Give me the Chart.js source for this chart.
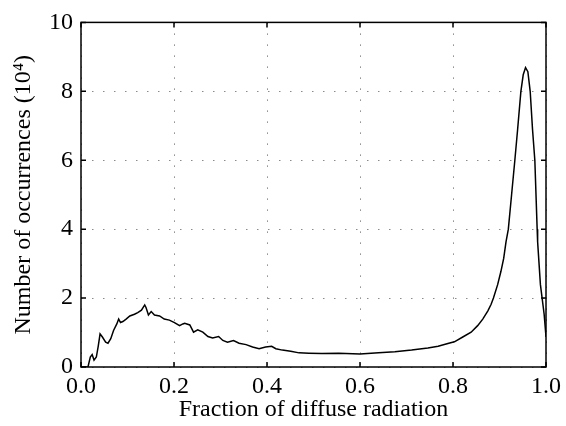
<!DOCTYPE html>
<html>
<head>
<meta charset="utf-8">
<script src="https://cdn.jsdelivr.net/npm/chart.js@4.4.1/dist/chart.umd.min.js"></script>
<style>
  html, body { margin: 0; padding: 0; background: #fff; }
  canvas { display: block; }
</style>
</head>
<body>
<canvas id="histChart" width="566" height="426"></canvas>
<script>
// fraction of diffuse radiation (x) and occurrences in 10^4 (y)
const fractions = [
  0, 0.015, 0.020, 0.024, 0.028, 0.033, 0.037, 0.041, 0.046, 0.053,
  0.058, 0.064, 0.070, 0.077, 0.081, 0.085, 0.090, 0.097, 0.105, 0.115,
  0.122, 0.130, 0.137, 0.140, 0.145, 0.151, 0.158, 0.169, 0.179, 0.190,
  0.201, 0.212, 0.219, 0.223, 0.234, 0.242, 0.251, 0.262, 0.273, 0.283,
  0.296, 0.305, 0.315, 0.328, 0.340, 0.355, 0.369, 0.383, 0.397, 0.410,
  0.419, 0.433, 0.451, 0.469, 0.490, 0.518, 0.554, 0.600, 0.640, 0.675,
  0.711, 0.746, 0.768, 0.789, 0.803, 0.821, 0.839, 0.853, 0.864, 0.875,
  0.882, 0.887, 0.896, 0.903, 0.909, 0.914, 0.919, 0.926, 0.933, 0.939,
  0.946, 0.951, 0.956, 0.961, 0.966, 0.971, 0.976, 0.981, 0.982, 0.988,
  0.996, 1.0
];
const occurrences = [
  0, 0, 0.29, 0.36, 0.20, 0.29, 0.60, 0.96, 0.87, 0.72,
  0.69, 0.82, 1.06, 1.25, 1.39, 1.29, 1.32, 1.39, 1.48, 1.53,
  1.58, 1.65, 1.80, 1.72, 1.51, 1.61, 1.51, 1.48, 1.39, 1.36,
  1.29, 1.20, 1.25, 1.27, 1.22, 1.01, 1.08, 1.01, 0.885, 0.84,
  0.885, 0.77, 0.72, 0.77, 0.69, 0.65, 0.58, 0.53, 0.58, 0.60,
  0.53, 0.49, 0.46, 0.41, 0.40, 0.39, 0.40, 0.38, 0.41, 0.44,
  0.49, 0.55, 0.60, 0.68, 0.73, 0.87, 1.01, 1.20, 1.39, 1.63,
  1.82, 2.0, 2.39, 2.77, 3.15, 3.63, 4.0, 5.0, 6.0, 6.9,
  8.0, 8.48, 8.69, 8.57, 8.0, 6.9, 6.0, 4.0, 3.63, 2.39,
  1.53, 0.87
];
const xTicks = [0, 0.2, 0.4, 0.6, 0.8, 1.0];
const yTicks = [0, 2, 4, 6, 8, 10];

const points = fractions.map((f, i) => ({ x: f, y: occurrences[i] }));
const serif = { family: "'Liberation Serif', 'Times New Roman', serif", size: 24 };

// matlab style box with inward ticks
const boxPlugin = {
  id: 'box',
  afterDraw(chart) {
    const { ctx, chartArea: a, scales: { x, y } } = chart;
    ctx.save();
    ctx.strokeStyle = '#000';
    ctx.lineWidth = 1.5;
    ctx.strokeRect(a.left, a.top, a.width, a.height);
    ctx.beginPath();
    xTicks.forEach(v => {
      const px = x.getPixelForValue(v);
      ctx.moveTo(px, a.bottom); ctx.lineTo(px, a.bottom - 5);
      ctx.moveTo(px, a.top); ctx.lineTo(px, a.top + 5);
    });
    yTicks.forEach(v => {
      const py = y.getPixelForValue(v);
      ctx.moveTo(a.left, py); ctx.lineTo(a.left + 5, py);
      ctx.moveTo(a.right, py); ctx.lineTo(a.right - 5, py);
    });
    ctx.stroke();
    ctx.restore();
  }
};

new Chart(document.getElementById('histChart'), {
  type: 'scatter',
  data: {
    datasets: [{
      data: points,
      showLine: true,
      borderColor: '#000',
      borderWidth: 1.5,
      pointRadius: 0,
      tension: 0
    }]
  },
  options: {
    responsive: false,
    animation: false,
    layout: { padding: { top: 17, right: 16, left: 0, bottom: 0 } },
    plugins: { legend: { display: false }, tooltip: { enabled: false } },
    scales: {
      x: {
        type: 'linear',
        min: 0, max: 1,
        afterFit(s) { s.height = 59; },
        afterBuildTicks(s) { s.ticks = xTicks.map(v => ({ value: v })); },
        ticks: {
          color: '#000', font: serif, padding: 5,
          callback: v => v.toFixed(1)
        },
        grid: { color: '#8a8a8a', lineWidth: 1, drawTicks: false },
        border: { display: false, dash: [1.5, 9.5] },
        title: {
          display: true, text: 'Fraction of diffuse radiation',
          color: '#000', font: serif, padding: { top: 0, bottom: 2 }
        }
      },
      y: {
        type: 'linear',
        min: 0, max: 10,
        afterFit(s) { s.width = 81; },
        afterBuildTicks(s) { s.ticks = yTicks.map(v => ({ value: v })); },
        ticks: { color: '#000', font: serif, padding: 8 },
        grid: { color: '#8a8a8a', lineWidth: 1, drawTicks: false },
        border: { display: false, dash: [1.5, 9.5] },
        title: {
          display: true, text: 'Number of occurrences (10\u2074)',
          color: '#000', font: serif, padding: { top: 9, bottom: 0 }
        }
      }
    }
  },
  plugins: [boxPlugin]
});
</script>
</body>
</html>
